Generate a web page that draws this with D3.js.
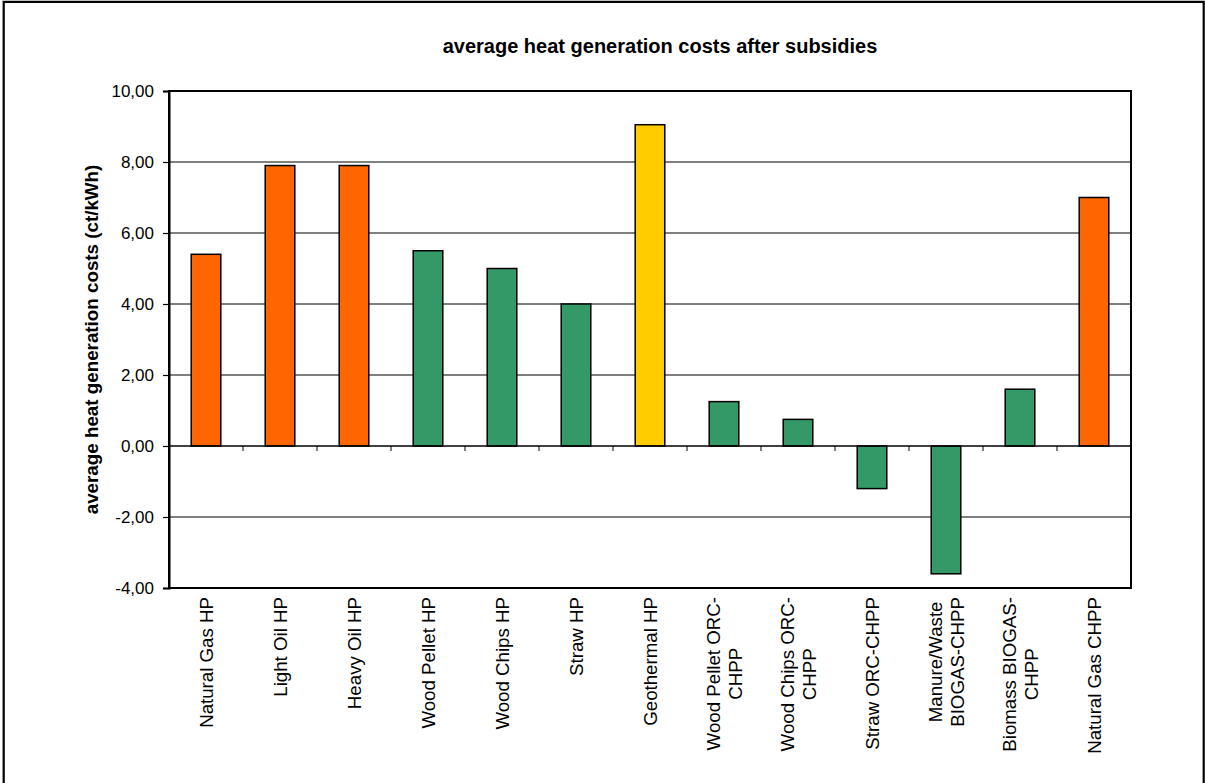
<!DOCTYPE html>
<html>
<head>
<meta charset="utf-8">
<script src="https://cdn.jsdelivr.net/npm/d3@7"></script>
<style>
  html, body { margin: 0; padding: 0; background: #fff; }
  svg { display: block; font-family: "Liberation Sans", Arial, sans-serif; }
</style>
</head>
<body>
<svg id="chart" width="1205" height="783"></svg>
<script>
// Heat generation technologies (label lines) and their costs after subsidies, ct/kWh
const categories = [
  ["Natural Gas HP"],
  ["Light Oil HP"],
  ["Heavy Oil HP"],
  ["Wood Pellet HP"],
  ["Wood Chips HP"],
  ["Straw HP"],
  ["Geothermal HP"],
  ["Wood Pellet ORC-", "CHPP"],
  ["Wood Chips ORC-", "CHPP"],
  ["Straw ORC-CHPP"],
  ["Manure/Waste", "BIOGAS-CHPP"],
  ["Biomass BIOGAS-", "CHPP"],
  ["Natural Gas CHPP"]
];
const costs = [5.4, 7.9, 7.9, 5.5, 5.0, 4.0, 9.05, 1.25, 0.75, -1.2, -3.6, 1.6, 7.0];
const fuelGroup = ["fossil", "fossil", "fossil", "biomass", "biomass", "biomass", "geothermal",
                   "biomass", "biomass", "biomass", "biomass", "biomass", "fossil"];
const yTicks = [-4, -2, 0, 2, 4, 6, 8, 10];

const titleText = "average heat generation costs after subsidies";
const yTitle = "average heat generation costs (ct/kWh)";

const svg = d3.select("#chart");
const W = 1205, H = 783;
const plot = { left: 169, right: 1131, top: 91, bottom: 588 };

// outer frame of the chart area
svg.append("path")
  .attr("d", `M3.7,${H + 5} V1.8 H1203.7 V${H + 5}`)
  .attr("fill", "none").attr("stroke", "#000").attr("stroke-width", 2.2);

const keys = categories.map((c, i) => "c" + i);
const x = d3.scaleBand().domain(keys).range([plot.left, plot.right])
  .paddingInner(0.6).paddingOuter(0.3);
const y = d3.scaleLinear().domain([-4, 10]).range([plot.bottom, plot.top]);
const color = d3.scaleOrdinal()
  .domain(["fossil", "biomass", "geothermal"])
  .range(["#FF6600", "#339966", "#FFCC00"]);

const locale = d3.formatLocale({ decimal: ",", thousands: ".", grouping: [3], currency: ["", " €"], minus: "-" });
const fmt = locale.format(".2f");

// horizontal gridlines
svg.append("g").selectAll("line")
  .data(yTicks.filter(t => t !== 0 && t !== 10 && t !== -4))
  .join("line")
  .attr("x1", plot.left).attr("x2", plot.right)
  .attr("y1", d => y(d)).attr("y2", d => y(d))
  .attr("stroke", "#000").attr("stroke-width", 1);

// plot frame
svg.append("rect")
  .attr("x", plot.left).attr("y", plot.top)
  .attr("width", plot.right - plot.left).attr("height", plot.bottom - plot.top)
  .attr("fill", "none").attr("stroke", "#000").attr("stroke-width", 2);

// bars
svg.append("g").selectAll("rect")
  .data(costs)
  .join("rect")
  .attr("x", (d, i) => x(keys[i]))
  .attr("width", x.bandwidth())
  .attr("y", d => y(Math.max(0, d)))
  .attr("height", d => Math.abs(y(d) - y(0)))
  .attr("fill", (d, i) => color(fuelGroup[i]))
  .attr("stroke", "#000").attr("stroke-width", 1.5);

// zero line with category tick marks
svg.append("line")
  .attr("x1", plot.left).attr("x2", plot.right)
  .attr("y1", y(0)).attr("y2", y(0))
  .attr("stroke", "#000").attr("stroke-width", 1.5);
const step = x.step();
svg.append("g").selectAll("line")
  .data(keys.slice(1))
  .join("line")
  .attr("x1", (d) => x(d) - x.paddingInner() * step / 2)
  .attr("x2", (d) => x(d) - x.paddingInner() * step / 2)
  .attr("y1", y(0)).attr("y2", y(0) + 5)
  .attr("stroke", "#000").attr("stroke-width", 1);

// y axis
const yAxis = d3.axisLeft(y).tickValues(yTicks).tickFormat(fmt).tickSize(6).tickPadding(9);
const gy = svg.append("g").attr("transform", `translate(${plot.left},0)`).call(yAxis);
gy.select(".domain").attr("stroke-width", 2);
gy.selectAll(".tick line").attr("stroke-width", 1.2);
gy.selectAll(".tick text")
  .attr("font-family", "'Liberation Sans', Arial, sans-serif")
  .attr("font-size", 17).attr("fill", "#000").attr("dy", "0.35em");

// category labels, rotated
const lineH = 22;
const labelTop = plot.bottom + 9;
const lg = svg.append("g")
  .attr("font-size", 18.7).attr("fill", "#000");
categories.forEach((lines, i) => {
  const cx = x(keys[i]) + x.bandwidth() / 2;
  const n = lines.length;
  const t = lg.append("text")
    .attr("transform", `translate(${cx},${labelTop}) rotate(-90)`);
  if (n === 1) {
    t.append("tspan").attr("x", 0).attr("y", 0).attr("dy", "0.35em")
      .attr("text-anchor", "end").text(lines[0]);
  } else {
    // lines centred within the block of the widest line
    const tmp = lg.append("text").attr("visibility", "hidden");
    const widths = lines.map(s => { tmp.text(s); return tmp.node().getComputedTextLength(); });
    tmp.remove();
    const blockW = d3.max(widths);
    lines.forEach((s, k) => {
      t.append("tspan")
        .attr("x", -blockW / 2)
        .attr("y", (k - (n - 1) / 2) * lineH)
        .attr("dy", "0.35em")
        .attr("text-anchor", "middle")
        .text(s);
    });
  }
});

// title
svg.append("text")
  .attr("x", 660).attr("y", 53)
  .attr("text-anchor", "middle")
  .attr("font-weight", "bold").attr("font-size", 20)
  .text(titleText);

// y axis title
svg.append("text")
  .attr("transform", `translate(98,${(plot.top + plot.bottom) / 2}) rotate(-90)`)
  .attr("text-anchor", "middle")
  .attr("font-weight", "bold").attr("font-size", 18.8)
  .text(yTitle);
</script>
</body>
</html>
